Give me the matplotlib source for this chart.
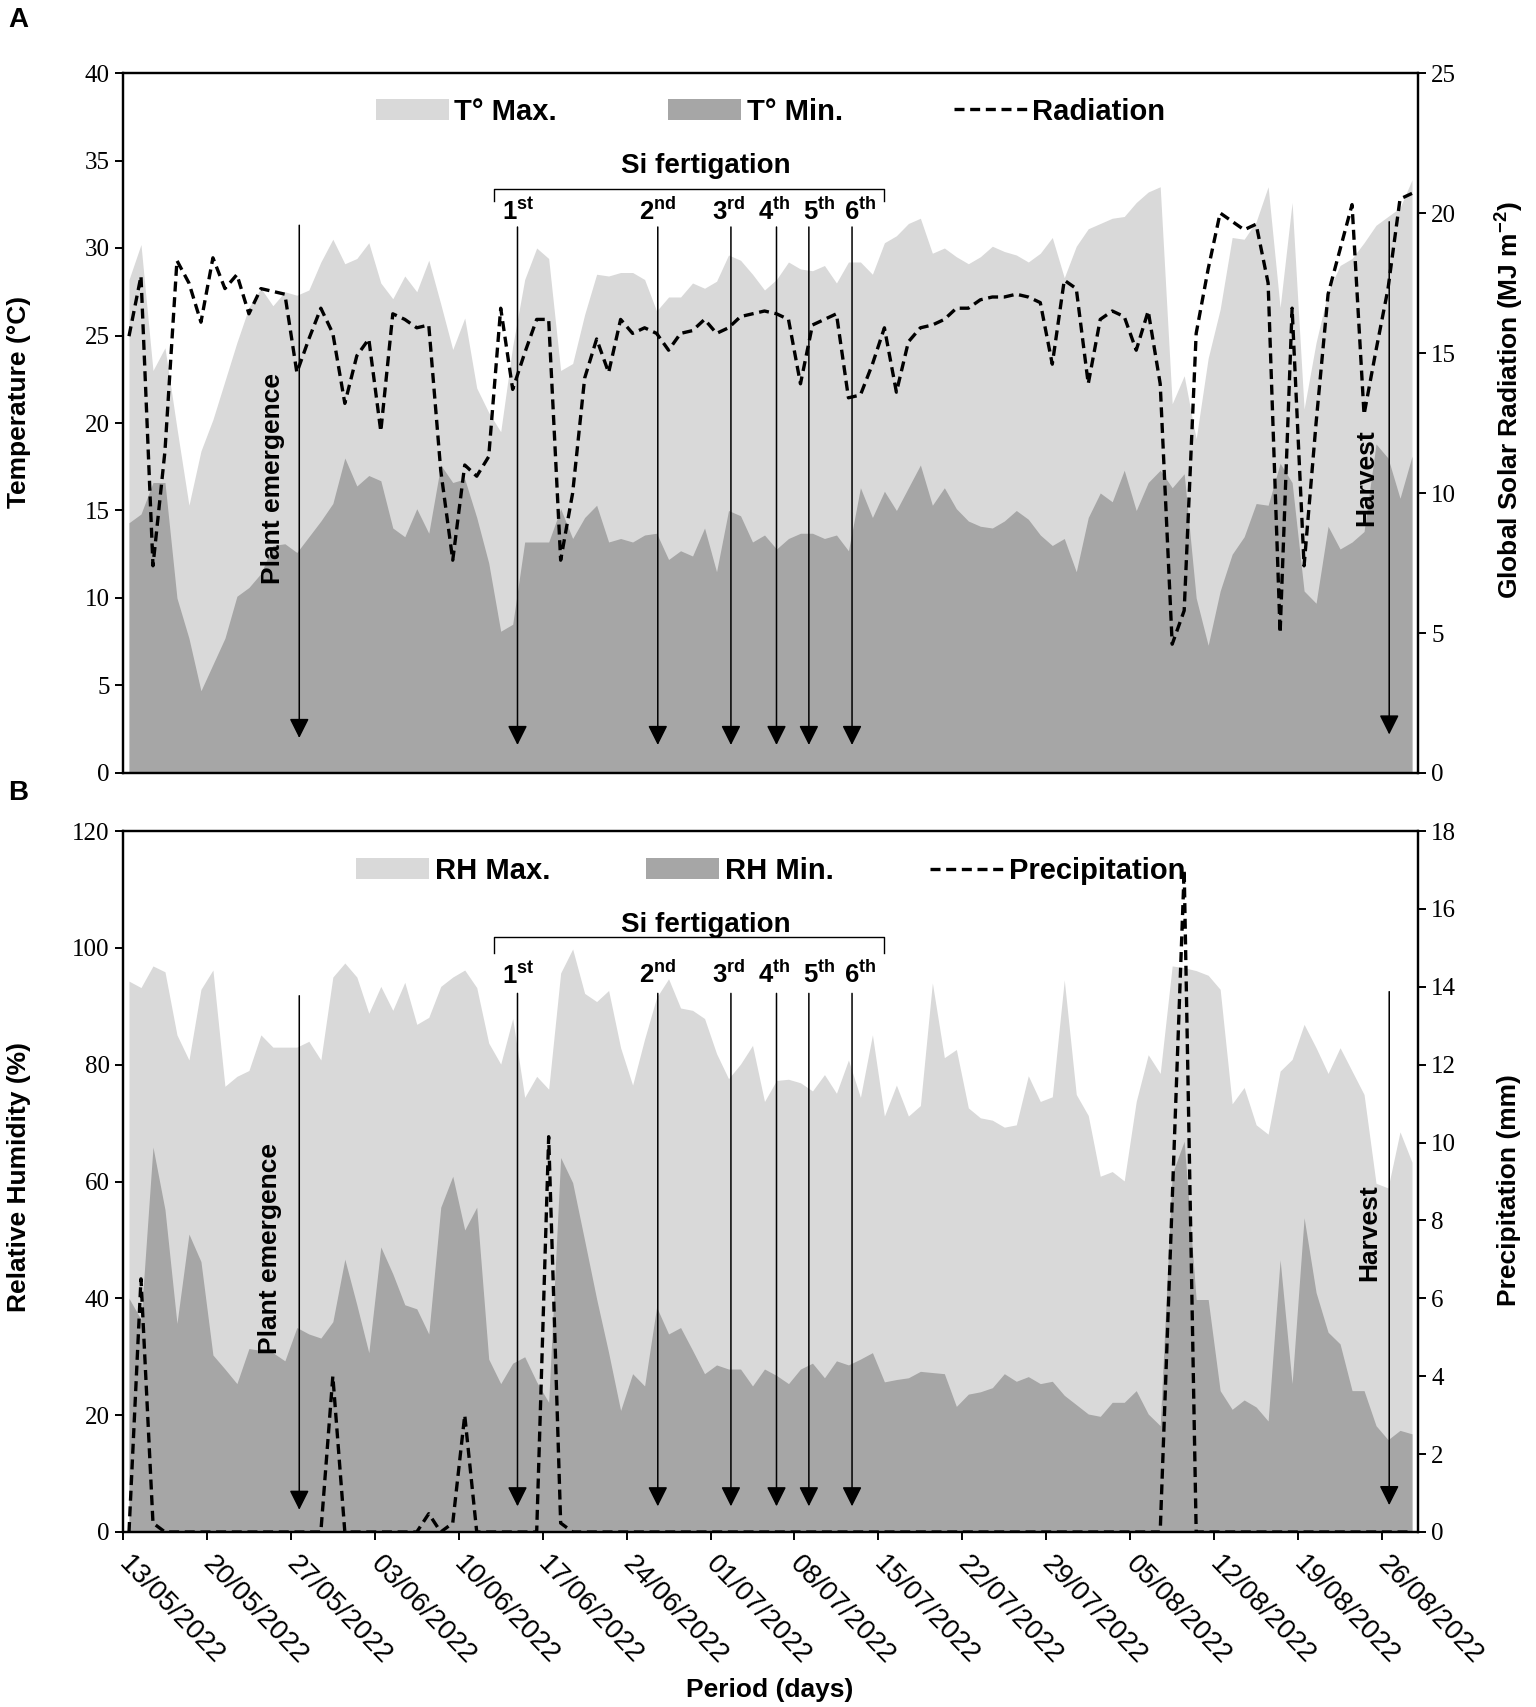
import numpy as np
import matplotlib
matplotlib.use("Agg")
import matplotlib.pyplot as plt
from matplotlib.patches import Patch
from matplotlib.lines import Line2D
from matplotlib.transforms import ScaledTranslation

plt.rcParams['font.family'] = ['Liberation Sans', 'DejaVu Sans']
plt.rcParams['mathtext.fontset'] = 'custom'
plt.rcParams['mathtext.rm'] = 'Liberation Sans'
plt.rcParams['mathtext.bf'] = 'Liberation Sans:bold'

# ---- daily data, 13/05/2022 .. 27/08/2022 (108 days) ----
t_max = [28.2, 30.2, 23.0, 24.3, 19.7, 15.3, 18.4, 20.2, 22.4, 24.6,
         26.6, 27.7, 26.7, 27.5, 27.3, 27.6, 29.2, 30.5, 29.1, 29.4,
         30.3, 28.0, 27.1, 28.4, 27.5, 29.3, 26.8, 24.2, 26.0, 22.0,
         20.6, 19.5, 24.4, 28.2, 30.0, 29.4, 23.0, 23.4, 26.2, 28.5,
         28.4, 28.6, 28.6, 28.2, 26.4, 27.2, 27.2, 28.0, 27.7, 28.1,
         29.6, 29.3, 28.5, 27.6, 28.2, 29.2, 28.8, 28.7, 29.0, 28.0,
         29.2, 29.2, 28.5, 30.3, 30.7, 31.4, 31.7, 29.7, 30.0, 29.5,
         29.1, 29.5, 30.1, 29.8, 29.6, 29.2, 29.7, 30.6, 28.3, 30.1,
         31.1, 31.4, 31.7, 31.8, 32.6, 33.2, 33.5, 21.1, 22.7, 19.1,
         23.7, 26.5, 30.6, 30.5, 31.5, 33.5, 26.6, 32.6, 20.8, 24.6,
         27.5, 29.0, 29.4, 30.3, 31.3, 31.8, 32.3, 33.9]
t_min = [14.3, 14.8, 16.6, 16.6, 10.0, 7.7, 4.7, 6.2, 7.7, 10.1,
         10.6, 11.4, 13.0, 13.1, 12.6, 13.5, 14.4, 15.4, 18.0, 16.4,
         17.0, 16.7, 14.0, 13.5, 15.1, 13.7, 17.6, 16.6, 16.8, 14.6,
         12.0, 8.1, 8.5, 13.2, 13.2, 13.2, 15.1, 13.4, 14.6, 15.3,
         13.2, 13.4, 13.2, 13.6, 13.7, 12.2, 12.7, 12.4, 14.0, 11.5,
         15.0, 14.7, 13.2, 13.6, 12.8, 13.4, 13.7, 13.7, 13.4, 13.6,
         12.7, 16.3, 14.6, 16.1, 15.0, 16.3, 17.6, 15.3, 16.3, 15.1,
         14.4, 14.1, 14.0, 14.4, 15.0, 14.5, 13.6, 13.0, 13.4, 11.5,
         14.6, 16.0, 15.5, 17.3, 15.0, 16.6, 17.3, 16.3, 17.1, 10.0,
         7.3, 10.4, 12.5, 13.5, 15.4, 15.3, 17.7, 16.6, 10.4, 9.7,
         14.1, 12.8, 13.2, 13.8, 18.8, 18.0, 15.7, 18.1]
radiation = [15.6, 17.75, 7.4, 11.5, 18.3, 17.5, 16.1, 18.4, 17.3, 17.8,
             16.4, 17.3, 17.2, 17.1, 14.3, 15.5, 16.6, 15.7, 13.2, 14.9,
             15.5, 12.2, 16.4, 16.2, 15.9, 16.0, 10.8, 7.6, 11.0, 10.6,
             11.3, 16.6, 13.7, 15.0, 16.2, 16.2, 7.6, 10.0, 14.1, 15.5,
             14.3, 16.2, 15.7, 15.9, 15.7, 15.1, 15.7, 15.8, 16.2, 15.7,
             15.9, 16.3, 16.4, 16.5, 16.4, 16.2, 13.9, 16.0, 16.2, 16.4,
             13.4, 13.5, 14.6, 15.9, 13.6, 15.4, 15.9, 16.0, 16.2, 16.6,
             16.6, 16.9, 17.0, 17.0, 17.1, 17.0, 16.8, 14.6, 17.6, 17.3,
             13.9, 16.2, 16.5, 16.3, 15.1, 16.5, 13.9, 4.6, 5.8, 15.7,
             18.0, 20.0, 19.7, 19.4, 19.6, 17.5, 5.0, 16.6, 7.4, 12.5,
             17.1, 18.7, 20.3, 12.8, 15.1, 17.3, 20.5, 20.7]
rh_max = [94.3, 93.2, 96.9, 95.9, 85.1, 80.8, 92.9, 96.2, 76.3, 78.0,
          79.0, 85.1, 83.0, 83.0, 83.0, 84.0, 80.8, 95.0, 97.4, 95.0,
          88.8, 93.4, 89.3, 94.1, 86.9, 88.1, 93.4, 95.0, 96.2, 93.2,
          83.7, 80.1, 87.9, 74.4, 78.0, 75.8, 95.7, 99.8, 92.2, 90.8,
          92.7, 82.9, 76.5, 84.4, 91.5, 94.7, 89.7, 89.3, 87.9, 81.9,
          77.6, 80.1, 83.3, 73.7, 77.3, 77.5, 76.9, 75.5, 78.3, 75.1,
          80.8, 74.4, 85.1, 71.2, 76.5, 71.2, 73.0, 94.0, 81.2, 82.6,
          72.6, 70.9, 70.5, 69.3, 69.7, 78.1, 73.7, 74.5, 94.5, 74.9,
          71.3, 60.9, 61.7, 60.1, 73.7, 81.7, 78.5, 96.9, 96.6, 96.1,
          95.3, 92.9, 73.3, 76.1, 69.7, 68.1, 78.9, 80.9, 86.9, 82.9,
          78.5, 82.9, 78.9, 74.9, 59.7, 58.9, 68.5, 63.3]
rh_min = [40.0, 36.4, 65.9, 55.2, 35.7, 51.0, 46.3, 30.3, 27.9, 25.4,
          31.4, 31.1, 30.7, 29.3, 35.0, 33.9, 33.2, 36.0, 46.7, 38.9,
          30.7, 48.8, 44.2, 38.9, 38.2, 33.9, 55.6, 60.9, 51.7, 55.6,
          29.6, 25.4, 28.9, 30.0, 25.7, 22.2, 64.1, 59.8, 49.9, 39.9,
          30.7, 20.8, 27.1, 25.0, 38.5, 33.9, 35.0, 31.1, 27.1, 28.6,
          27.9, 27.9, 25.0, 27.9, 26.8, 25.4, 27.9, 28.9, 26.4, 29.3,
          28.6, 29.6, 30.7, 25.7, 26.1, 26.4, 27.5, 27.3, 27.1, 21.5,
          23.6, 24.0, 24.7, 27.1, 25.8, 26.6, 25.4, 25.8, 23.4, 21.8,
          20.2, 19.8, 22.2, 22.2, 24.2, 20.2, 18.2, 61.3, 66.9, 39.8,
          39.8, 24.2, 21.0, 22.6, 21.4, 19.0, 46.6, 25.4, 53.8, 41.0,
          34.2, 32.2, 24.2, 24.2, 18.2, 15.8, 17.4, 16.8]
precip = [0, 6.5, 0.23, 0, 0, 0, 0, 0, 0, 0,
          0, 0, 0, 0, 0, 0, 0, 4.0, 0, 0,
          0, 0, 0, 0, 0, 0.47, 0, 0.23, 3.0, 0,
          0, 0, 0, 0, 0, 10.15, 0.23, 0, 0, 0,
          0, 0, 0, 0, 0, 0, 0, 0, 0, 0,
          0, 0, 0, 0, 0, 0, 0, 0, 0, 0,
          0, 0, 0, 0, 0, 0, 0, 0, 0, 0,
          0, 0, 0, 0, 0, 0, 0, 0, 0, 0,
          0, 0, 0, 0, 0, 0, 0, 8.5, 17.0, 0,
          0, 0, 0, 0, 0, 0, 0, 0, 0, 0,
          0, 0, 0, 0, 0, 0, 0, 0]

date_ticks = [0, 7, 14, 21, 28, 35, 42, 49, 56, 63, 70, 77, 84, 91, 98, 105]
date_labels = ['13/05/2022', '20/05/2022', '27/05/2022', '03/06/2022',
               '10/06/2022', '17/06/2022', '24/06/2022', '01/07/2022',
               '08/07/2022', '15/07/2022', '22/07/2022', '29/07/2022',
               '05/08/2022', '12/08/2022', '19/08/2022', '26/08/2022']

# event positions (day axis)
emergence_day = 14.7
harvest_day = 105.6
fert_days = [32.9, 44.6, 50.7, 54.5, 57.2, 60.8]
fert_label_x = [33.0, 44.6, 50.5, 54.3, 58.1, 61.5]
fert_names = [r'$\mathbf{1^{st}}$', r'$\mathbf{2^{nd}}$', r'$\mathbf{3^{rd}}$',
              r'$\mathbf{4^{th}}$', r'$\mathbf{5^{th}}$', r'$\mathbf{6^{th}}$']

LIGHT = '#d9d9d9'
DARK = '#a6a6a6'
DASH = (0, (3, 1.7))
SERIF = 'Liberation Serif'

W, H = 1536, 1707
fig = plt.figure(figsize=(W / 100, H / 100), dpi=100)
axA = fig.add_axes([123 / W, 1 - 773 / H, 1295 / W, 700 / H])
axB = fig.add_axes([123 / W, 1 - 1532 / H, 1295 / W, 701 / H])

x = np.arange(len(t_max)) + 0.5


def style_axes(ax, ax2):
    for a in (ax, ax2):
        for s in a.spines.values():
            s.set_linewidth(1.6)
    ax.tick_params(axis='y', direction='out', length=6, width=1.4, labelsize=18)
    ax2.tick_params(axis='y', direction='out', length=6, width=1.4, labelsize=18)
    for lab in ax.get_yticklabels() + ax2.get_yticklabels():
        lab.set_fontfamily(SERIF)
    ax.set_xlim(0, 108)


def events(ax, top, tip, lab_y, brk_y, brk_leg, si_y, em_top, em_tip, em_txt_y,
           hv_top, hv_tip, hv_txt_y, em_txt_x, hv_txt_x):
    ap = dict(arrowstyle='-|>', color='black', lw=1.1, mutation_scale=30,
              shrinkA=0, shrinkB=0)
    for d, lx, name in zip(fert_days, fert_label_x, fert_names):
        ax.annotate('', xy=(d, tip), xytext=(d, top), arrowprops=ap, zorder=6)
        ax.text(lx, lab_y, name, ha='center', va='center', fontsize=18.5, zorder=6)
    ax.annotate('', xy=(emergence_day, em_tip), xytext=(emergence_day, em_top),
                arrowprops=ap, zorder=6)
    ax.annotate('', xy=(harvest_day, hv_tip), xytext=(harvest_day, hv_top),
                arrowprops=ap, zorder=6)
    ax.text(em_txt_x, em_txt_y, 'Plant emergence', rotation=90, ha='center',
            va='center', fontsize=19, fontweight='bold', zorder=6)
    ax.text(hv_txt_x, hv_txt_y, 'Harvest', rotation=90, ha='center',
            va='center', fontsize=19, fontweight='bold', zorder=6)
    ax.plot([30.9, 30.9, 63.5, 63.5], [brk_leg, brk_y, brk_y, brk_leg],
            color='black', lw=1.0, zorder=6)
    ax.text(48.6, si_y, 'Si fertigation', ha='center', va='center',
            fontsize=20, fontweight='bold', zorder=6)


# ---------------- panel A ----------------
axA.fill_between(x, t_max, color=LIGHT, lw=0)
axA.fill_between(x, t_min, color=DARK, lw=0)
axA.set_ylim(0, 40)
axA.set_yticks(range(0, 41, 5))
axA.tick_params(axis='x', length=0, labelbottom=False)
axA2 = axA.twinx()
axA2.plot(x, radiation, color='black', ls=DASH, lw=2.4)
axA2.set_ylim(0, 25)
axA2.set_yticks(range(0, 26, 5))
style_axes(axA, axA2)
events(axA, top=31.2, tip=1.6, lab_y=32.1, brk_y=33.4, brk_leg=32.7, si_y=34.7,
       em_top=31.3, em_tip=2.0, em_txt_y=16.8, hv_top=31.5, hv_tip=2.2,
       hv_txt_y=16.9, em_txt_x=12.5, hv_txt_x=103.7)

handlesA = [Patch(fc=LIGHT, ec='none'), Patch(fc=DARK, ec='none'),
            Line2D([], [], color='black', ls=DASH, lw=2.4)]
axA2.legend(handlesA, ['T° Max.', 'T° Min.', 'Radiation'], loc='center',
            bbox_to_anchor=(0.5, 0.945), ncol=3, frameon=False,
            prop={'size': 21, 'weight': 'bold'}, handlelength=2.5,
            handleheight=0.75, handletextpad=0.2, columnspacing=3.8)

# ---------------- panel B ----------------
axB.fill_between(x, rh_max, color=LIGHT, lw=0)
axB.fill_between(x, rh_min, color=DARK, lw=0)
axB.set_ylim(0, 120)
axB.set_yticks(range(0, 121, 20))
axB2 = axB.twinx()
axB2.plot(x, precip, color='black', ls=DASH, lw=2.4)
axB2.set_ylim(0, 18)
axB2.set_yticks(range(0, 19, 2))
style_axes(axB, axB2)
axB.set_xticks(date_ticks)
axB.set_xticklabels(date_labels)
axB.tick_params(axis='x', direction='out', length=6, width=1.4, labelsize=20, pad=8)
shift = ScaledTranslation(0.09, 0, fig.dpi_scale_trans)
for lab in axB.get_xticklabels():
    lab.set_rotation(-46)
    lab.set_ha('left')
    lab.set_va('top')
    lab.set_rotation_mode('anchor')
    lab.set_transform(lab.get_transform() + shift)
events(axB, top=92.2, tip=4.4, lab_y=95.4, brk_y=101.8, brk_leg=99.1, si_y=103.9,
       em_top=91.8, em_tip=3.8, em_txt_y=48.5, hv_top=92.5, hv_tip=4.6,
       hv_txt_y=51.2, em_txt_x=12.3, hv_txt_x=103.9)

handlesB = [Patch(fc=LIGHT, ec='none'), Patch(fc=DARK, ec='none'),
            Line2D([], [], color='black', ls=DASH, lw=2.4)]
axB2.legend(handlesB, ['RH Max.', 'RH Min.', 'Precipitation'], loc='center',
            bbox_to_anchor=(0.5, 0.943), ncol=3, frameon=False,
            prop={'size': 21, 'weight': 'bold'}, handlelength=2.5,
            handleheight=0.75, handletextpad=0.2, columnspacing=3.3)

# ---------------- labels ----------------
lab_kw = dict(rotation=90, ha='center', va='center', fontsize=19, fontweight='bold')
fig.text(19 / W, 1 - 402 / H, 'Temperature (°C)', **lab_kw)
fig.text(1509 / W, 1 - 400 / H, r'Global Solar Radiation (MJ m$^{\mathbf{-2}}$)', **lab_kw)
fig.text(19 / W, 1 - 1177 / H, 'Relative Humidity (%)', **lab_kw)
fig.text(1509 / W, 1 - 1190 / H, 'Precipitation (mm)', **lab_kw)
fig.text(770 / W, 1 - 1690 / H, 'Period (days)', ha='center', va='center',
         fontsize=19, fontweight='bold')
fig.text(8 / W, 1 - 20 / H, 'A', ha='left', va='center', fontsize=20, fontweight='bold')
fig.text(8 / W, 1 - 793 / H, 'B', ha='left', va='center', fontsize=20, fontweight='bold')

fig.savefig('out.png', dpi=100)
